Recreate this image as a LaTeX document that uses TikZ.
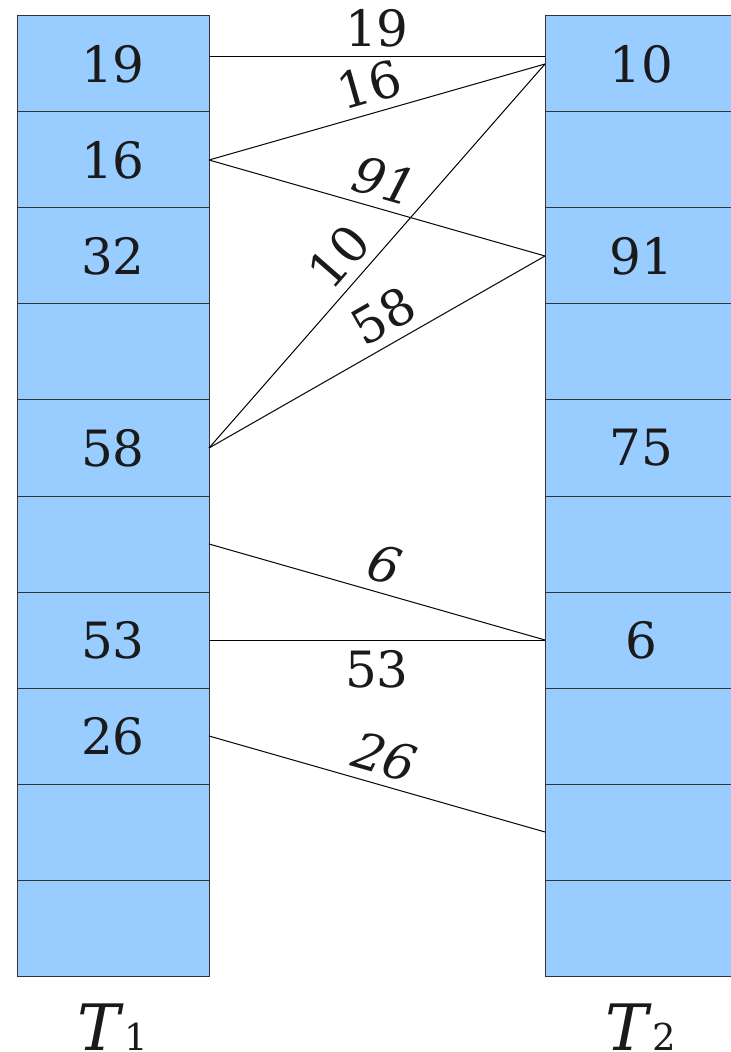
\documentclass[tikz,border=0pt]{standalone}
\usepackage{fontspec}
\setmainfont{DejaVu Serif}
\usepackage{tikz}
\usetikzlibrary{positioning}
\definecolor{cellblue}{HTML}{99CCFF}
\definecolor{cellline}{HTML}{333333}
\definecolor{ink}{HTML}{1A1A1A}

\begin{document}
\begin{tikzpicture}[
  x=0.5pt, y=-0.5pt,
  cell/.style={draw=cellline, fill=cellblue, line width=0.5pt, minimum width=96pt, minimum height=48pt, inner sep=0pt, outer sep=0pt, text=ink, font=\fontsize{25}{30}\selectfont},
  link/.style={line width=0.5pt},
  lab/.style={inner sep=0pt, text=ink, font=\fontsize{25}{30}\selectfont},
  slab/.style={lab, font=\fontsize{25}{30}\selectfont\itshape},
  tab/.style={inner sep=0pt, text=ink, font=\fontsize{32}{36}\selectfont\itshape},
  node distance=0pt
]
\useasboundingbox (0,0) rectangle (731,1052);
% table T1
\node[cell] (l0) at (113,64) {19};
\node[cell, below=of l0] (l1) {16};
\node[cell, below=of l1] (l2) {32};
\node[cell, below=of l2] (l3) {};
\node[cell, below=of l3] (l4) {58};
\node[cell, below=of l4] (l5) {};
\node[cell, below=of l5] (l6) {53};
\node[cell, below=of l6] (l7) {26};
\node[cell, below=of l7] (l8) {};
\node[cell, below=of l8] (l9) {};
% table T2
\node[cell] (r0) at (641,64) {10};
\node[cell, below=of r0] (r1) {};
\node[cell, below=of r1] (r2) {91};
\node[cell, below=of r2] (r3) {};
\node[cell, below=of r3] (r4) {75};
\node[cell, below=of r4] (r5) {};
\node[cell, below=of r5] (r6) {6};
\node[cell, below=of r6] (r7) {};
\node[cell, below=of r7] (r8) {};
\node[cell, below=of r8] (r9) {};
% table names
\node[tab, below=13.5pt of l9] (t1) {T\textup{\fontsize{18.5}{20}\selectfont 1}};
\node[tab, below=13.5pt of r9] (t2) {T\textup{\fontsize{18.5}{20}\selectfont 2}};
% moves
\draw[link] ([yshift=3.5pt]l0.east) -- node[lab, above=4.5pt] {19} ([yshift=3.5pt]r0.west);
\draw[link] (l1.east) -- node[lab, sloped, above=4.5pt] {16} (r0.west);
\draw[link] (l1.east) -- node[slab, sloped, above=4.5pt] {91} (r2.west);
\draw[link] (l4.east) -- node[lab, pos=0.45, sloped, above=4.5pt] {10} (r0.west);
\draw[link] (l4.east) -- node[lab, pos=0.56, sloped, above=4.5pt] {58} (r2.west);
\draw[link] (l5.east) -- node[slab, sloped, above=4.5pt] {6} (r6.west);
\draw[link] (l6.east) -- node[lab, below=5pt] {53} (r6.west);
\draw[link] (l7.east) -- node[slab, sloped, above=4.5pt] {26} (r8.west);
\end{tikzpicture}
\end{document}
